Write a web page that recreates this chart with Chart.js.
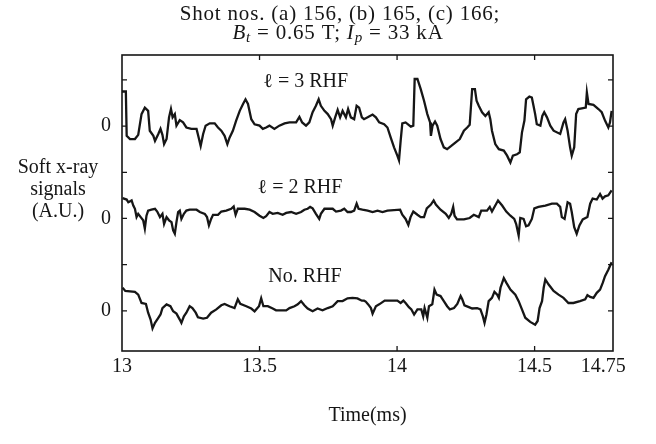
<!DOCTYPE html>
<html>
<head>
<meta charset="utf-8">
<script src="https://cdn.jsdelivr.net/npm/chart.js@4.4.0/dist/chart.umd.min.js"></script>
<style>
    html, body { margin: 0; padding: 0; background: #fff; }
</style>
</head>
<body>
<canvas id="chart" width="656" height="444"></canvas>
<script>
// Soft x-ray signals, three shots (A.U. relative to each trace's zero)
const rhf3Time = [13.000, 13.014, 13.017, 13.029, 13.047, 13.059, 13.071, 13.083, 13.095, 13.101,
    13.114, 13.120, 13.132, 13.140, 13.147, 13.153, 13.162, 13.171, 13.178, 13.184,
    13.192, 13.198, 13.210, 13.222, 13.234, 13.252, 13.271, 13.280, 13.286, 13.295,
    13.304, 13.319, 13.337, 13.349, 13.361, 13.373, 13.383, 13.391, 13.403, 13.415,
    13.428, 13.440, 13.449, 13.458, 13.470, 13.482, 13.500, 13.512, 13.524, 13.536,
    13.554, 13.572, 13.591, 13.609, 13.633, 13.645, 13.655, 13.669, 13.681, 13.693,
    13.705, 13.715, 13.723, 13.736, 13.748, 13.760, 13.766, 13.775, 13.784, 13.793,
    13.802, 13.814, 13.822, 13.832, 13.844, 13.853, 13.862, 13.872, 13.880, 13.893,
    13.911, 13.923, 13.935, 13.953, 13.965, 13.977, 13.989, 14.001, 14.007, 14.013,
    14.019, 14.031, 14.050, 14.059, 14.064, 14.074, 14.086, 14.098, 14.110, 14.120,
    14.123, 14.129, 14.138, 14.146, 14.158, 14.170, 14.182, 14.197, 14.213, 14.228,
    14.243, 14.255, 14.264, 14.273, 14.283, 14.289, 14.297, 14.309, 14.321, 14.333,
    14.339, 14.345, 14.357, 14.370, 14.388, 14.400, 14.412, 14.421, 14.436, 14.446,
    14.454, 14.463, 14.469, 14.481, 14.490, 14.496, 14.502, 14.508, 14.521, 14.528,
    14.535, 14.545, 14.557, 14.569, 14.593, 14.605, 14.611, 14.620, 14.629, 14.635,
    14.644, 14.651, 14.659, 14.686, 14.690, 14.696, 14.714, 14.732, 14.744, 14.756,
    14.768, 14.774, 14.780];
const rhf3Signal = [0.75, 0.75, -0.21, -0.28, -0.28, -0.19, 0.26, 0.40, 0.33, -0.10,
    -0.21, -0.32, -0.17, -0.06, -0.19, -0.39, -0.28, 0.19, 0.37, 0.19,
    0.26, 0.01, 0.13, 0.08, -0.03, -0.06, -0.06, -0.28, -0.43, -0.17,
    0.01, 0.06, 0.06, -0.03, -0.10, -0.21, -0.39, -0.25, -0.10, 0.12,
    0.33, 0.48, 0.58, 0.48, 0.15, 0.04, 0.01, -0.06, -0.03, 0.01,
    -0.06, 0.01, 0.06, 0.08, 0.08, 0.20, 0.08, 0.01, 0.08, 0.30,
    0.44, 0.58, 0.44, 0.33, 0.26, 0.15, 0.01, 0.19, 0.35, 0.19,
    0.33, 0.19, 0.37, 0.19, 0.15, 0.44, 0.40, 0.19, 0.15, 0.19,
    0.25, 0.19, 0.08, 0.04, -0.03, -0.25, -0.46, -0.64, -0.74, -0.32,
    0.06, 0.08, -0.01, 0.01, 1.02, 1.02, 0.80, 0.55, 0.26, 0.08,
    -0.21, 0.01, 0.10, 0.01, -0.28, -0.46, -0.50, -0.43, -0.35, -0.28,
    -0.10, -0.03, 0.03, 0.80, 0.80, 0.55, 0.44, 0.30, 0.22, 0.30,
    0.15, -0.10, -0.39, -0.50, -0.53, -0.64, -0.79, -0.64, -0.61, -0.57,
    -0.14, 0.12, 0.58, 0.64, 0.62, 0.44, 0.26, 0.04, 0.01, 0.22,
    0.30, 0.19, 0.01, -0.10, -0.17, 0.08, 0.15, -0.10, -0.46, -0.64,
    -0.46, 0.26, 0.37, 0.40, 0.73, 0.48, 0.46, 0.37, 0.30, 0.12,
    -0.03, 0.08, 0.33];

const rhf2Time = [13.002, 13.017, 13.023, 13.035, 13.041, 13.047, 13.053, 13.059, 13.068, 13.077,
    13.083, 13.089, 13.095, 13.107, 13.120, 13.128, 13.138, 13.147, 13.153, 13.162,
    13.171, 13.180, 13.186, 13.192, 13.198, 13.204, 13.210, 13.216, 13.225, 13.234,
    13.246, 13.271, 13.283, 13.301, 13.309, 13.316, 13.324, 13.331, 13.349, 13.361,
    13.379, 13.397, 13.406, 13.413, 13.421, 13.446, 13.464, 13.482, 13.500, 13.514,
    13.524, 13.536, 13.548, 13.566, 13.584, 13.597, 13.615, 13.633, 13.651, 13.663,
    13.675, 13.684, 13.693, 13.705, 13.717, 13.723, 13.736, 13.766, 13.778, 13.796,
    13.808, 13.820, 13.832, 13.844, 13.853, 13.860, 13.874, 13.893, 13.911, 13.929,
    13.947, 13.965, 14.011, 14.019, 14.031, 14.041, 14.049, 14.059, 14.074, 14.086,
    14.098, 14.108, 14.123, 14.133, 14.141, 14.158, 14.177, 14.188, 14.197, 14.204,
    14.209, 14.218, 14.243, 14.264, 14.279, 14.297, 14.306, 14.327, 14.337, 14.345,
    14.354, 14.367, 14.382, 14.397, 14.412, 14.426, 14.433, 14.442, 14.448, 14.460,
    14.469, 14.478, 14.490, 14.499, 14.514, 14.539, 14.563, 14.581, 14.593, 14.599,
    14.609, 14.620, 14.629, 14.635, 14.644, 14.653, 14.663, 14.675, 14.692, 14.702,
    14.711, 14.726, 14.738, 14.747, 14.756, 14.768, 14.780];
const rhf2Signal = [0.44, 0.41, 0.35, 0.39, 0.28, 0.21, 0.03, 0.10, 0.03, -0.04,
    -0.22, 0.06, 0.17, 0.19, 0.21, 0.15, 0.03, 0.10, -0.12, 0.03,
    -0.04, -0.08, -0.26, -0.33, -0.08, 0.14, 0.17, -0.01, 0.10, 0.17,
    0.19, 0.19, 0.14, 0.10, 0.03, -0.15, -0.01, 0.08, 0.08, 0.15,
    0.17, 0.21, 0.26, 0.08, 0.21, 0.21, 0.19, 0.14, 0.06, 0.01,
    0.05, 0.14, 0.10, 0.12, 0.08, 0.12, 0.14, 0.10, 0.14, 0.19,
    0.21, 0.25, 0.22, 0.10, -0.01, 0.10, 0.21, 0.21, 0.15, 0.17,
    0.21, 0.14, 0.14, 0.17, 0.32, 0.21, 0.19, 0.17, 0.14, 0.17,
    0.14, 0.17, 0.19, 0.08, -0.01, -0.14, 0.03, 0.15, 0.08, 0.03,
    0.03, 0.22, 0.30, 0.39, 0.30, 0.19, 0.10, 0.01, 0.10, 0.25,
    0.06, -0.02, -0.02, 0.01, 0.08, 0.03, 0.17, 0.17, 0.25, 0.15,
    0.25, 0.39, 0.28, 0.15, 0.06, -0.01, -0.12, -0.37, 0.01, -0.01,
    -0.17, -0.15, -0.01, 0.22, 0.25, 0.28, 0.32, 0.32, 0.25, 0.03,
    -0.01, 0.35, 0.32, 0.14, -0.19, -0.33, -0.15, -0.02, 0.03, 0.32,
    0.43, 0.41, 0.53, 0.43, 0.48, 0.50, 0.61];

const noRhfTime = [13.002, 13.012, 13.047, 13.059, 13.071, 13.087, 13.095, 13.104, 13.111, 13.120,
    13.132, 13.140, 13.147, 13.162, 13.176, 13.186, 13.198, 13.210, 13.216, 13.225,
    13.234, 13.246, 13.256, 13.268, 13.276, 13.295, 13.309, 13.324, 13.343, 13.361,
    13.373, 13.391, 13.409, 13.421, 13.430, 13.452, 13.470, 13.482, 13.498, 13.506,
    13.514, 13.530, 13.548, 13.560, 13.597, 13.609, 13.627, 13.639, 13.651, 13.663,
    13.675, 13.693, 13.711, 13.729, 13.748, 13.766, 13.784, 13.802, 13.820, 13.838,
    13.856, 13.872, 13.880, 13.886, 13.895, 13.905, 13.911, 13.923, 13.935, 13.955,
    14.001, 14.013, 14.023, 14.031, 14.043, 14.052, 14.062, 14.074, 14.088, 14.095,
    14.100, 14.110, 14.116, 14.128, 14.136, 14.144, 14.158, 14.170, 14.182, 14.192,
    14.207, 14.219, 14.231, 14.237, 14.245, 14.261, 14.273, 14.291, 14.303, 14.312,
    14.318, 14.325, 14.333, 14.345, 14.354, 14.364, 14.370, 14.376, 14.388, 14.397,
    14.412, 14.430, 14.442, 14.454, 14.466, 14.484, 14.502, 14.511, 14.518, 14.527,
    14.533, 14.539, 14.551, 14.569, 14.587, 14.605, 14.623, 14.641, 14.665, 14.684,
    14.692, 14.702, 14.714, 14.726, 14.738, 14.748, 14.756, 14.768, 14.780];
const noRhfSignal = [0.50, 0.43, 0.41, 0.35, 0.17, 0.15, -0.04, -0.19, -0.38, -0.26,
    -0.15, -0.08, 0.06, 0.14, 0.10, -0.01, -0.06, -0.19, -0.26, -0.12,
    -0.04, 0.10, 0.06, -0.04, -0.14, -0.17, -0.15, -0.04, 0.03, 0.12,
    0.15, 0.10, 0.06, 0.25, 0.15, 0.10, 0.05, -0.01, 0.10, 0.27,
    0.10, 0.10, 0.05, 0.01, 0.01, 0.06, 0.10, 0.14, 0.21, 0.12,
    0.05, -0.01, 0.05, 0.01, 0.06, 0.10, 0.21, 0.21, 0.27, 0.28,
    0.27, 0.22, 0.22, 0.20, 0.14, 0.06, -0.06, 0.10, 0.14, 0.22,
    0.22, 0.17, 0.22, 0.17, 0.08, 0.03, -0.08, 0.03, 0.03, -0.12,
    0.06, -0.15, 0.10, 0.14, 0.46, 0.35, 0.32, 0.21, 0.10, 0.03,
    0.06, 0.15, 0.32, 0.25, 0.12, 0.08, 0.05, 0.06, 0.03, -0.12,
    -0.26, -0.08, 0.21, 0.28, 0.41, 0.35, 0.28, 0.50, 0.71, 0.61,
    0.46, 0.35, 0.21, 0.03, -0.15, -0.24, -0.30, -0.22, 0.06, 0.21,
    0.50, 0.68, 0.57, 0.43, 0.35, 0.28, 0.17, 0.17, 0.21, 0.25,
    0.34, 0.30, 0.28, 0.39, 0.46, 0.61, 0.75, 0.89, 1.05];

const traceTimes = [rhf3Time, rhf2Time, noRhfTime];
const traceSignals = [rhf3Signal, rhf2Signal, noRhfSignal];
const traceOffsets = [4, 2, 0];
const traceNames = ['ℓ = 3 RHF', 'ℓ = 2 RHF', 'No. RHF'];

const xTickVals = [13, 13.5, 14, 14.5, 14.75];
const xTickLabels = ['13', '13.5', '14', '14.5', '14.75'];
const yTickVals = [0, 1, 2, 3, 4, 5];
const yTickLabels = ['0', '', '0', '', '0', ''];

const FONT = '"Liberation Serif", "DejaVu Serif", serif';
const INK = '#161616';

const datasets = traceTimes.map((times, i) => ({
    label: traceNames[i],
    data: times.map((t, j) => ({ x: t, y: traceSignals[i][j] + traceOffsets[i] })),
    borderColor: INK,
    borderWidth: 2.3,
    pointRadius: 0,
    fill: false,
    tension: 0
}));

// frame on all four sides plus small inward ticks
const framePlugin = {
    id: 'frame',
    afterDatasetsDraw(chart) {
        const { ctx, chartArea: a, scales } = chart;
        ctx.save();
        ctx.strokeStyle = INK;
        ctx.lineWidth = 1.6;
        ctx.strokeRect(a.left, a.top, a.right - a.left, a.bottom - a.top);
        ctx.lineWidth = 1.3;
        ctx.beginPath();
        yTickVals.forEach(v => {
            const py = scales.y.getPixelForValue(v);
            ctx.moveTo(a.left, py); ctx.lineTo(a.left + 5, py);
            ctx.moveTo(a.right, py); ctx.lineTo(a.right - 5, py);
        });
        xTickVals.forEach(v => {
            const px = scales.x.getPixelForValue(v);
            if (px - a.left < 10 || a.right - px < 12) return;
            ctx.moveTo(px, a.bottom); ctx.lineTo(px, a.bottom - 5);
            ctx.moveTo(px, a.top); ctx.lineTo(px, a.top + 5);
        });
        ctx.stroke();
        ctx.restore();
    }
};

// trace names, title and the horizontal y title
const textPlugin = {
    id: 'texts',
    afterDraw(chart) {
        const { ctx, scales } = chart;
        ctx.save();
        ctx.fillStyle = INK;
        ctx.textAlign = 'center';
        ctx.textBaseline = 'middle';
        ctx.font = '20px ' + FONT;

        const nameAt = [[13.668, 4.97], [13.647, 2.67], [13.665, 0.74]];
        traceNames.forEach((name, i) => {
            ctx.fillText(name, scales.x.getPixelForValue(nameAt[i][0]), scales.y.getPixelForValue(nameAt[i][1]));
        });

        ['Soft x-ray', 'signals', '(A.U.)'].forEach((line, i) => {
            ctx.fillText(line, 58, 168 + i * 22);
        });

        ctx.letterSpacing = '0.8px';
        ctx.font = '21px ' + FONT;
        ctx.fillText('Shot nos. (a) 156, (b) 165, (c) 166;', 340, 14);

        // second title line with italic symbols and subscripts
        const parts = [
            { s: 'B', f: 'italic 21px ' + FONT, dy: 0 },
            { s: 't', f: 'italic 15px ' + FONT, dy: 5 },
            { s: ' = 0.65 T; ', f: '21px ' + FONT, dy: 0 },
            { s: 'I', f: 'italic 21px ' + FONT, dy: 0 },
            { s: 'p', f: 'italic 15px ' + FONT, dy: 5 },
            { s: ' = 33 kA', f: '21px ' + FONT, dy: 0 }
        ];
        let total = 0;
        parts.forEach(p => { ctx.font = p.f; p.w = ctx.measureText(p.s).width; total += p.w; });
        let x = 338 - total / 2;
        ctx.textAlign = 'left';
        parts.forEach(p => {
            ctx.font = p.f;
            ctx.fillText(p.s, x, 33 + p.dy);
            x += p.w;
        });
        ctx.restore();
    }
};

new Chart(document.getElementById('chart'), {
    type: 'line',
    data: { datasets: datasets },
    options: {
        responsive: false,
        animation: false,
        layout: { padding: { left: 0, right: 43, top: 55, bottom: 0 } },
        plugins: {
            legend: { display: false },
            tooltip: { enabled: false },
            title: { display: false }
        },
        scales: {
            x: {
                type: 'linear',
                min: 13,
                max: 14.785,
                afterBuildTicks: (scale) => { scale.ticks = xTickVals.map(v => ({ value: v })); },
                afterFit: (scale) => { scale.height = 93; },
                grid: { display: false, drawTicks: false },
                border: { display: false },
                ticks: {
                    padding: 4,
                    maxRotation: 0,
                    autoSkip: false,
                    color: INK,
                    font: { family: FONT, size: 20 },
                    callback: (value, index) => xTickLabels[index]
                },
                title: {
                    display: true,
                    text: 'Time(ms)',
                    color: INK,
                    font: { family: FONT, size: 20 },
                    padding: { top: 0, bottom: 16 }
                }
            },
            y: {
                type: 'linear',
                min: -0.87,
                max: 5.54,
                afterBuildTicks: (scale) => { scale.ticks = yTickVals.map(v => ({ value: v })); },
                afterFit: (scale) => { scale.width = 122; },
                grid: { display: false, drawTicks: false },
                border: { display: false },
                ticks: {
                    padding: 11,
                    autoSkip: false,
                    color: INK,
                    font: { family: FONT, size: 20 },
                    callback: (value, index) => yTickLabels[index]
                }
            }
        }
    },
    plugins: [framePlugin, textPlugin]
});
</script>
</body>
</html>
